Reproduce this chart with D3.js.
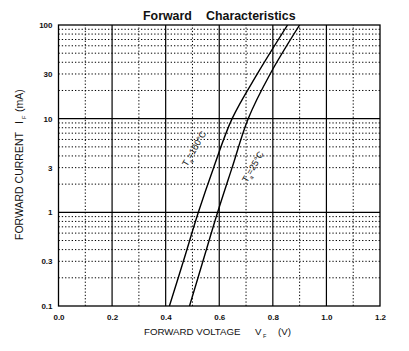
<!DOCTYPE html>
<html lang="en">
<head>
    <title>Forward Characteristics</title>
    <script src="https://d3js.org/d3.v7.min.js"></script>
    <style>
        body { margin: 0; background: #fff; }
        text { font-family: "Liberation Sans", Arial, sans-serif; fill: #111; }
        .tick-label { font-size: 8px; font-weight: bold; }
    </style>
</head>
<body>

<script>
    // forward current (mA) and voltage (V) for each temperature
    const current = [0.1, 0.3, 1, 3, 10, 30, 100];
    const vf100 = [0.414, 0.466, 0.522, 0.579, 0.648, 0.742, 0.855];
    const vf25 = [0.489, 0.539, 0.594, 0.648, 0.708, 0.79, 0.9];

    const xTicks = [0, 0.2, 0.4, 0.6, 0.8, 1.0, 1.2];
    const yTicks = [0.1, 0.3, 1, 3, 10, 30, 100];

    const width = 409, height = 351;
    const m = {left: 58.5, right: 29, top: 25, bottom: 45};

    const svg = d3.select("body").append("svg")
            .attr("width", width).attr("height", height);

    const x = d3.scaleLinear().domain([0, 1.2]).range([m.left, width - m.right]);
    const y = d3.scaleLog().domain([0.1, 100]).range([height - m.bottom, m.top]);

    // grid
    const grid = svg.append("g");
    const minorV = d3.range(1, 12, 2).map(d => d / 10);
    grid.selectAll(".vdot").data(minorV).join("line")
            .attr("x1", x).attr("x2", x).attr("y1", y(0.1)).attr("y2", y(100))
            .attr("stroke", "#000").attr("stroke-width", 1).attr("stroke-dasharray", "1.3,2");

    const minorH = [];
    [0.1, 1, 10].forEach(dec => d3.range(2, 10).forEach(k => minorH.push(dec * k)));
    grid.selectAll(".hdot").data(minorH).join("line")
            .attr("x1", x(0)).attr("x2", x(1.2)).attr("y1", y).attr("y2", y)
            .attr("stroke", "#000").attr("stroke-width", 1).attr("stroke-dasharray", "1.3,2");

    grid.selectAll(".vsolid").data(xTicks.slice(1, -1)).join("line")
            .attr("x1", x).attr("x2", x).attr("y1", y(0.1)).attr("y2", y(100))
            .attr("stroke", "#000").attr("stroke-width", 1.2);
    grid.selectAll(".hsolid").data([1, 10]).join("line")
            .attr("x1", x(0)).attr("x2", x(1.2)).attr("y1", y).attr("y2", y)
            .attr("stroke", "#000").attr("stroke-width", 1.2);

    grid.append("rect")
            .attr("x", x(0)).attr("y", y(100))
            .attr("width", x(1.2) - x(0)).attr("height", y(0.1) - y(100))
            .attr("fill", "none").attr("stroke", "#000").attr("stroke-width", 1.3);

    // tick labels
    const xAxis = d3.axisBottom(x).tickValues(xTicks).tickSize(0).tickPadding(8)
            .tickFormat(d3.format(".1f"));
    svg.append("g").attr("transform", `translate(0,${y(0.1)})`).call(xAxis)
            .call(g => g.select(".domain").remove())
            .selectAll("text").attr("class", "tick-label").attr("fill", "#111");

    const yAxis = d3.axisLeft(y).tickValues(yTicks).tickSize(0).tickPadding(6)
            .tickFormat(d => d);
    svg.append("g").attr("transform", `translate(${x(0)},0)`).call(yAxis)
            .call(g => g.select(".domain").remove())
            .selectAll("text").attr("class", "tick-label").attr("fill", "#111");

    // curves
    svg.append("clipPath").attr("id", "plot").append("rect")
            .attr("x", x(0)).attr("y", y(100))
            .attr("width", x(1.2) - x(0)).attr("height", y(0.1) - y(100));

    const line = d3.line().x(d => x(d[0])).y(d => y(d[1])).curve(d3.curveCatmullRom);
    [vf100, vf25].forEach(vs => {
        svg.append("path")
                .datum(vs.map((v, i) => [v, current[i]]))
                .attr("d", line)
                .attr("clip-path", "url(#plot)")
                .attr("fill", "none").attr("stroke", "#000").attr("stroke-width", 1.4);
    });

    // curve labels
    function tempLabel(tx, ty, temp) {
        const t = svg.append("text")
                .attr("transform", `translate(${tx},${ty}) rotate(-60)`)
                .attr("font-size", 9).attr("fill", "#333");
        t.append("tspan").text("T");
        t.append("tspan").attr("font-size", 5.5).attr("dy", 3).text("a");
        t.append("tspan").attr("dy", -3).text("=" + temp + "°C");
    }
    tempLabel(187, 167, 100);
    tempLabel(247, 183, 25);

    // titles
    svg.append("text").attr("x", 143).attr("y", 20)
            .attr("font-size", 12.4).attr("font-weight", "bold").text("Forward");
    svg.append("text").attr("x", 206).attr("y", 20)
            .attr("font-size", 12.4).attr("font-weight", "bold").text("Characteristics");

    const xl = svg.append("g").attr("font-size", 9.7);
    xl.append("text").attr("x", 144).attr("y", 335).text("FORWARD VOLTAGE");
    xl.append("text").attr("x", 255).attr("y", 335).text("V");
    xl.append("text").attr("x", 263).attr("y", 338).attr("font-size", 5.5).text("F");
    xl.append("text").attr("x", 278).attr("y", 335).text("(V)");

    const yl = svg.append("g").attr("transform", "translate(23,0) rotate(-90)")
            .attr("font-size", 10.5);
    yl.append("text").attr("x", -240).attr("y", 0).text("FORWARD CURRENT");
    yl.append("text").attr("x", -124).attr("y", 0).text("I");
    yl.append("text").attr("x", -119).attr("y", 3).attr("font-size", 5.5).text("F");
    yl.append("text").attr("x", -112).attr("y", 0).text("(mA)");
</script>

</body>
</html>
